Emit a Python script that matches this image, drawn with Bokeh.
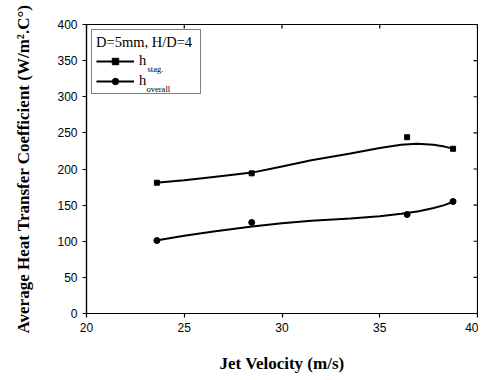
import math
from bokeh.plotting import figure
from bokeh.models import Range1d, Legend, LegendItem, Label, FixedTicker
from bokeh.embed import file_html
from bokeh.resources import INLINE

# measured points
velocity = [23.6, 28.45, 36.4, 38.75]
h_stag = [181, 194, 244, 228]
h_overall = [101, 126, 137, 155]

# fitted curves
curve_x_stag = [23.56, 25.0, 26.5, 28.47, 30.0, 31.5, 33.5, 35.0, 36.1, 36.9, 37.75, 38.3, 38.79]
curve_y_stag = [181, 184.5, 189, 195, 203.5, 212, 221.5, 229, 233.5, 234.8, 233.5, 231, 228]
curve_x_over = [23.56, 25.0, 26.5, 28.47, 30.0, 31.5, 33.5, 35.0, 36.1, 37.0, 37.76, 38.3, 38.79]
curve_y_over = [101, 107.5, 113.5, 120.5, 124.8, 128.5, 131.5, 134.5, 138, 141.5, 146, 150, 155]

x_ticks = [20, 25, 30, 35, 40]
y_ticks = [0, 50, 100, 150, 200, 250, 300, 350, 400]
x_lo, x_hi = 20, 40
y_lo, y_hi = 0, 400

SERIF = "Liberation Serif"
SANS = "Liberation Sans"

p = figure(width=478, height=375, output_backend="svg", toolbar_location=None,
           x_range=Range1d(x_lo, x_hi), y_range=Range1d(y_lo, y_hi),
           min_border_left=86, min_border_top=24, min_border_right=1, min_border_bottom=62)
p.xgrid.visible = False
p.ygrid.visible = False
p.outline_line_color = "black"
p.outline_line_width = 1.2

for ax in (p.xaxis[0], p.yaxis[0]):
    ax.axis_line_width = 1.2
    ax.major_tick_line_width = 1.2
    ax.major_tick_in = 0
    ax.major_tick_out = 4
    ax.minor_tick_line_color = None
    ax.major_label_text_font = SANS
    ax.major_label_text_font_size = "12px"
    ax.major_label_text_color = "black"
    ax.axis_label_text_font = SERIF
    ax.axis_label_text_font_style = "bold"
    ax.axis_label_text_color = "black"
    ax.major_label_standoff = 5

p.xaxis[0].ticker = FixedTicker(ticks=x_ticks)
p.yaxis[0].ticker = FixedTicker(ticks=y_ticks)
p.xaxis[0].axis_label = "Jet Velocity (m/s)"
p.yaxis[0].axis_label = "Average Heat Transfer Coefficient (W/m\u00b2.C\u00b0)"
p.xaxis[0].axis_label_text_font_size = "17px"
p.yaxis[0].axis_label_text_font_size = "17px"
p.xaxis[0].axis_label_standoff = 19
p.yaxis[0].axis_label_standoff = 21

# mirrored inward ticks on the right and top frame edges
p.ray(x=[x_hi] * len(y_ticks), y=y_ticks, length=4, length_units="screen",
      angle=math.pi, line_color="black", line_width=1.2)
p.ray(x=x_ticks, y=[y_hi] * len(x_ticks), length=4, length_units="screen",
      angle=-math.pi / 2, line_color="black", line_width=1.2)

l1 = p.line(curve_x_stag, curve_y_stag, line_color="black", line_width=2)
s1 = p.scatter(velocity, h_stag, marker="square", size=5, color="black")
l2 = p.line(curve_x_over, curve_y_over, line_color="black", line_width=2)
s2 = p.scatter(velocity, h_overall, marker="circle", size=6, color="black")

legend = Legend(items=[LegendItem(label="h", renderers=[l1, s1]),
                       LegendItem(label="h", renderers=[l2, s2])],
                location="top_left", margin=5, padding=4, spacing=3,
                label_height=16, glyph_height=16, glyph_width=38, label_standoff=5,
                label_width=57,
                title="D=5mm, H/D=4", title_standoff=1,
                title_text_font=SERIF, title_text_font_size="14.5px", title_text_font_style="normal",
                title_text_color="black",
                label_text_font=SERIF, label_text_font_size="14.5px", label_text_color="black",
                border_line_color="black", border_line_width=1.2,
                background_fill_alpha=0.0)
p.add_layout(legend, "center")

p.add_layout(Label(x=23.12, y=338, text="stag.", text_font=SERIF, text_font_size="8.5px",
                   text_color="black", text_baseline="alphabetic", level="overlay"))
p.add_layout(Label(x=23.07, y=310.5, text="overall", text_font=SERIF, text_font_size="8.5px",
                   text_color="black", text_baseline="alphabetic", level="overlay"))

open("out.html", "w").write(file_html(p, INLINE))
